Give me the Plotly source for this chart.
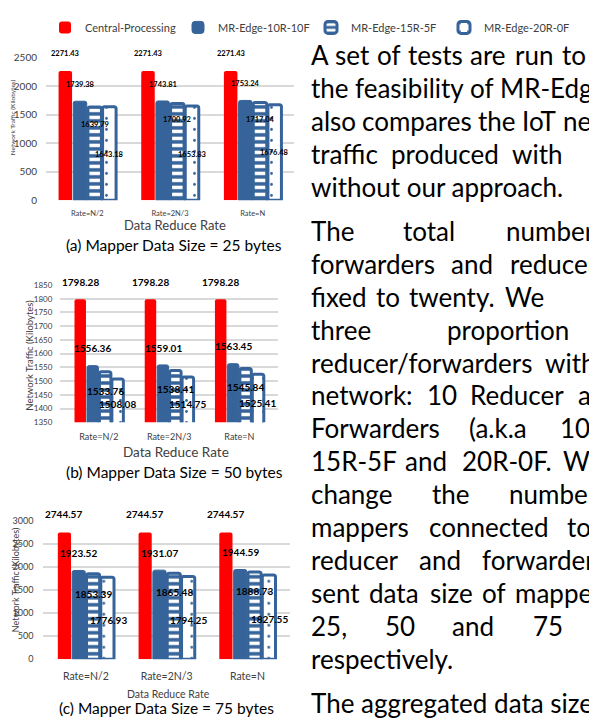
import plotly.graph_objects as go

W, H = 589, 727
FONT = "Lato"
RED = "#FF0000"
BLUE = "#36649A"
GRID = "#D9D9D9"

categories = ["Rate=N/2", "Rate=2N/3", "Rate=N"]
series_names = ["Central-Processing", "MR-Edge-10R-10F", "MR-Edge-15R-5F", "MR-Edge-20R-0F"]

# (a) Mapper Data Size = 25 bytes
a_central = [2271.43, 2271.43, 2271.43]
a_10r10f = [1739.38, 1743.81, 1753.24]
a_15r5f = [1639.79, 1700.92, 1717.04]
a_20r0f = [1643.18, 1653.83, 1676.48]

# (b) Mapper Data Size = 50 bytes
b_central = [1798.28, 1798.28, 1798.28]
b_10r10f = [1556.36, 1559.01, 1563.45]
b_15r5f = [1533.76, 1538.41, 1545.84]
b_20r0f = [1508.08, 1514.75, 1525.41]

# (c) Mapper Data Size = 75 bytes
c_central = [2744.57, 2744.57, 2744.57]
c_10r10f = [1923.52, 1931.07, 1944.59]
c_15r5f = [1853.39, 1865.48, 1888.73]
c_20r0f = [1776.93, 1794.25, 1827.55]

# where the (Excel-placed) data labels sit, in data units
a_label_y = [[2569, 2569, 2569], [2028, 2028, 2052], [1338, 1419, 1424], [803, 803, 833]]
b_label_y = [[1862, 1862, 1862], [1620, 1620, 1629], [1464, 1473, 1479], [1417, 1417, 1420]]
c_label_y = [[3149, 3149, 3149], [2311, 2311, 2332], [1421, 1457, 1479], [853, 853, 866]]

captions = ["(a) Mapper Data Size = 25 bytes", "(b) Mapper Data Size = 50 bytes",
            "(c) Mapper Data Size = 75 bytes"]


def px(x):
    return x / W


def py(y):
    return 1 - y / H


panels = [
    dict(series=[a_central, a_10r10f, a_15r5f, a_20r0f], labels=a_label_y,
         x0=46, x1=294, ytop=52.7, ybot=197.3, yr=[0, 2500], dt=500,
         tickfont=10, xtickfont=7.5, labfont=7.5, ticklen=6, xticklen=6, bargap=0.29,
         ytitle_x=12, ytitle_y=113, ytitle_size=6.5,
         xtitle_y=222.7, xtitle_x=175, xtitle_size=13,
         cap_y=243, cap_x=174),
    dict(series=[b_central, b_10r10f, b_15r5f, b_20r0f], labels=b_label_y,
         x0=60, x1=278.3, ytop=283.3, ybot=422.7, yr=[1350, 1850], dt=50,
         tickfont=8, xtickfont=9, labfont=10, ticklen=5, xticklen=6, bargap=0.3,
         ytitle_x=30, ytitle_y=355, ytitle_size=9.5,
         xtitle_y=453, xtitle_x=176, xtitle_size=13.5,
         cap_y=473, cap_x=174),
    dict(series=[c_central, c_10r10f, c_15r5f, c_20r0f], labels=c_label_y,
         x0=43.3, x1=290, ytop=522.7, ybot=663.3, yr=[0, 3000], dt=500,
         tickfont=9, xtickfont=10.5, labfont=10, ticklen=7, xticklen=7, bargap=0.27,
         ytitle_x=15, ytitle_y=583, ytitle_size=9,
         xtitle_y=699, xtitle_x=168, xtitle_size=10.5,
         cap_y=713, cap_x=166),
]


def bar_marker(i):
    if i == 0:
        return dict(color=RED, line=dict(color=RED, width=0))
    if i == 1:
        return dict(color=BLUE, line=dict(color=BLUE, width=1))
    if i == 2:
        return dict(color=BLUE, line=dict(color=BLUE, width=3),
                    pattern=dict(shape="-", fgcolor="white", bgcolor=BLUE,
                                 size=7, solidity=0.5, fillmode="replace"))
    return dict(color="white", line=dict(color=BLUE, width=3),
                pattern=dict(shape=".", fgcolor=BLUE, bgcolor="white",
                             size=11, solidity=0.05, fillmode="replace"))


fig = go.Figure()
annotations = []
layout = {}

for k, p in enumerate(panels):
    n = "" if k == 0 else str(k + 1)
    xa, ya = "x" + n, "y" + n
    r0, r1 = p["yr"]
    for i, (name, vals) in enumerate(zip(series_names, p["series"])):
        fig.add_trace(go.Bar(
            x=categories, y=vals, name=name, xaxis=xa, yaxis=ya,
            marker=bar_marker(i), showlegend=(k == 0), legendgroup=name,
        ))
        # data labels (placed relative to the axis domain so they may sit above the range)
        off = (i - 1.5) * (1 - p["bargap"]) / 4
        for j, v in enumerate(vals):
            annotations.append(dict(
                x=j + off, y=(p["labels"][i][j] - r0) / (r1 - r0),
                xref=xa, yref=ya + " domain",
                text="<b>%.2f</b>" % v, showarrow=False,
                font=dict(family=FONT, size=p["labfont"], color="black"),
                xanchor="center", yanchor="middle"))
    layout["xaxis" + n] = dict(
        domain=[px(p["x0"]), px(p["x1"])], anchor=ya, type="category",
        showgrid=False, showline=False, zeroline=False,
        ticks="outside", ticklen=p["xticklen"], tickcolor="rgba(0,0,0,0)",
        tickfont=dict(family=FONT, size=p["xtickfont"], color="#404040"),
        fixedrange=True)
    layout["yaxis" + n] = dict(
        domain=[py(p["ybot"]), py(p["ytop"])], anchor=xa, range=p["yr"],
        dtick=p["dt"], tick0=0, showgrid=True, gridcolor=GRID, gridwidth=1.8,
        zeroline=False, showline=False,
        ticks="outside", ticklen=p["ticklen"], tickcolor="rgba(0,0,0,0)",
        tickfont=dict(family=FONT, size=p["tickfont"], color="#404040"),
        fixedrange=True)
    annotations.append(dict(
        x=px(p["ytitle_x"]), y=py(p["ytitle_y"]), xref="paper", yref="paper",
        text="Network Traffic (Kilobytes)", textangle=-90, showarrow=False,
        font=dict(family=FONT, size=p["ytitle_size"], color="#404040"),
        xanchor="center", yanchor="middle"))
    annotations.append(dict(
        x=px(p["xtitle_x"]), y=py(p["xtitle_y"]), xref="paper", yref="paper",
        text="Data Reduce Rate", showarrow=False,
        font=dict(family=FONT, size=p["xtitle_size"], color="#404040"),
        xanchor="center", yanchor="middle"))
    annotations.append(dict(
        x=px(p["cap_x"]), y=py(p["cap_y"]), xref="paper", yref="paper",
        text=captions[k], showarrow=False,
        font=dict(family=FONT, size=15.5, color="black"),
        xanchor="center", yanchor="middle"))

# ---- body text of the right-hand column (justified, runs past the page edge) ----
BODY_SIZE = 26
LEFT = 311
GW = {" ": 463, "a": 981, "b": 1076, "c": 866, "d": 1076, "e": 1019, "f": 625, "g": 964,
      "h": 1076, "i": 470, "j": 490, "k": 931, "l": 470, "m": 1636, "n": 1076, "o": 1080,
      "p": 1076, "q": 1076, "r": 714, "s": 799, "t": 686, "u": 1076, "v": 925, "w": 1464,
      "x": 887, "y": 927, "z": 809, "A": 1185, "E": 1000, "F": 941, "I": 516, "M": 1751,
      "R": 1112, "T": 998, "W": 1822, ".": 517, ",": 511, ":": 548, "(": 621, ")": 621,
      "-": 627, "/": 793}


def word_w(s):
    return sum(GW.get(ch, 1038) for ch in s) / 2048 * BODY_SIZE * 1.06


# (line centre y, words, start x of the last word on the line or None for ragged lines)
body_lines = [
    (50.0, ["A", "set", "of", "tests", "are", "run", "to"], 562),
    (83.4, ["the", "feasibility", "of", "MR-Edge"], 500),
    (116.8, ["also", "compares", "the", "IoT", "network"], 563),
    (150.2, ["traffic", "produced", "with"], 512),
    (183.6, ["without our approach."], None),
    (228.4, ["The", "total", "number"], 506),
    (261.8, ["forwarders", "and", "reducers"], 510),
    (295.2, ["fixed", "to", "twenty.", "We"], 505),
    (328.6, ["three", "proportion"], 447),
    (362.0, ["reducer/forwarders", "with"], 545),
    (395.4, ["network:", "10", "Reducer", "and"], 578),
    (428.8, ["Forwarders", "(a.k.a", "10R-10F),"], 560),
    (462.2, ["15R-5F", "and", "20R-0F.", "We"], 563),
    (495.6, ["change", "the", "number"], 509),
    (529.0, ["mappers", "connected", "to"], 567),
    (562.4, ["reducer", "and", "forwarders"], 482),
    (595.8, ["sent", "data", "size", "of", "mappers"], 515),
    (629.2, ["25,", "50", "and", "75"], 533),
    (662.6, ["respectively."], None),
    (707.4, ["The aggregated data size"], None),
]
for yline, words, x_last in body_lines:
    if x_last is None or len(words) == 1:
        xs = [LEFT]
    else:
        inner = sum(word_w(w) for w in words[:-1])
        gap = (x_last - LEFT - inner) / (len(words) - 1)
        xs, x = [], LEFT
        for w in words:
            xs.append(x)
            x += word_w(w) + gap
    for word, x in zip(words, xs):
        annotations.append(dict(
            x=px(x - 2), y=py(yline), xref="paper", yref="paper", text=word,
            showarrow=False, xanchor="left", yanchor="middle",
            font=dict(family=FONT, size=BODY_SIZE, color="black")))

fig.update_layout(
    width=W, height=H, margin=dict(l=0, r=0, t=0, b=0),
    paper_bgcolor="white", plot_bgcolor="white",
    barmode="group", bargap=0.29, bargroupgap=0.08, barcornerradius=2,
    font=dict(family=FONT, color="#404040"),
    showlegend=True,
    legend=dict(orientation="h", x=px(45), y=py(7), xanchor="left", yanchor="top",
                font=dict(family=FONT, size=11, color="#404040"),
                itemwidth=30, entrywidth=88, tracegroupgap=0, bgcolor="rgba(0,0,0,0)"),
    annotations=annotations,
    **layout,
)

fig.write_html("out.html", config={"displayModeBar": False},
               post_script="document.body.style.margin='0';document.body.style.overflow='hidden';")
